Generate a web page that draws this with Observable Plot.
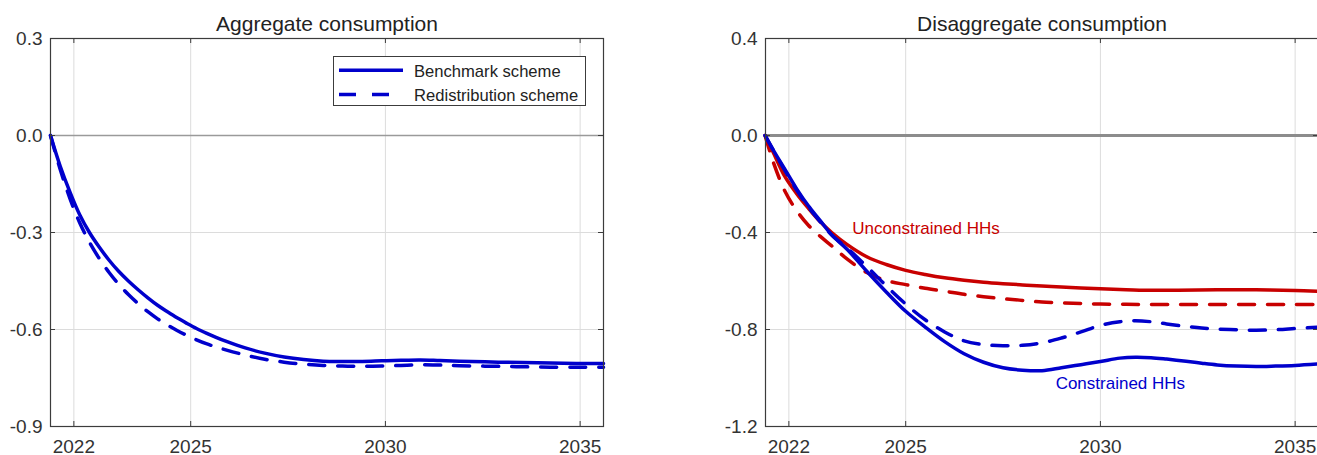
<!DOCTYPE html>
<html>
<head>
<meta charset="utf-8">
<script src="https://cdn.jsdelivr.net/npm/d3@7"></script>
<script src="https://cdn.jsdelivr.net/npm/@observablehq/plot@0.6"></script>
<style>
  html, body { margin: 0; padding: 0; background: #fff; overflow: hidden; width: 1317px; height: 455px; }
  #wrap { position: relative; width: 1317px; height: 455px; font-family: "Liberation Sans", Arial, Helvetica, sans-serif; }
  .panel { position: absolute; top: 0; }
  .legend { position: absolute; left: 333px; top: 56px; width: 251px; height: 48px; border: 1px solid #3c3c3c; background: #fff; }
</style>
</head>
<body>
<div id="wrap"></div>
<script>
// Axis ticks
const xTicks = [2022, 2025, 2030, 2035];
const aggYTicks = [0.3, 0, -0.3, -0.6, -0.9];
const disYTicks = [0.4, 0, -0.4, -0.8, -1.2];

// Panel titles and legend entries
const titles = ["Aggregate consumption", "Disaggregate consumption"];
const schemes = ["Benchmark scheme", "Redistribution scheme"];
const groups = ["Unconstrained HHs", "Constrained HHs"];

// Aggregate consumption (% deviation)
const aggYears = [2021.4, 2021.65, 2021.9, 2022.15, 2022.4, 2022.65, 2022.9, 2023.15, 2023.4, 2023.65, 2023.9, 2024.15, 2024.4, 2024.65, 2024.9, 2025.15, 2025.4, 2025.65, 2025.9, 2026.4, 2026.9, 2027.4, 2027.9, 2028.4, 2028.9, 2029.4, 2029.9, 2030.4, 2030.9, 2031.4, 2031.9, 2032.9, 2033.9, 2034.9, 2035.6];
const aggBenchmark = [0, -0.095, -0.175, -0.245, -0.30, -0.345, -0.385, -0.42, -0.45, -0.477, -0.502, -0.525, -0.545, -0.564, -0.581, -0.597, -0.611, -0.624, -0.636, -0.657, -0.673, -0.685, -0.693, -0.698, -0.699, -0.699, -0.697, -0.695, -0.694, -0.696, -0.698, -0.701, -0.703, -0.705, -0.705];
const aggRedistribution = [0, -0.105, -0.195, -0.27, -0.33, -0.38, -0.423, -0.46, -0.492, -0.52, -0.545, -0.567, -0.586, -0.603, -0.618, -0.632, -0.644, -0.654, -0.663, -0.679, -0.692, -0.701, -0.707, -0.711, -0.713, -0.714, -0.713, -0.711, -0.709, -0.710, -0.712, -0.714, -0.716, -0.717, -0.717];

// Disaggregate consumption: unconstrained households
const uncYears = [2021.39, 2021.6, 2021.9, 2022.2, 2022.5, 2022.8, 2023.1, 2023.5, 2024, 2024.5, 2025, 2025.5, 2026, 2026.5, 2027, 2027.5, 2028, 2028.5, 2029, 2029.5, 2030, 2030.5, 2031, 2032, 2033, 2034, 2035, 2035.6];
const uncBenchmark = [0, -0.07, -0.17, -0.24, -0.30, -0.355, -0.40, -0.45, -0.50, -0.532, -0.556, -0.573, -0.587, -0.597, -0.605, -0.611, -0.616, -0.621, -0.625, -0.629, -0.632, -0.635, -0.638, -0.638, -0.636, -0.636, -0.639, -0.642];
const uncRedistribution = [0, -0.11, -0.23, -0.31, -0.37, -0.415, -0.455, -0.51, -0.565, -0.598, -0.615, -0.63, -0.642, -0.655, -0.665, -0.673, -0.68, -0.687, -0.69, -0.693, -0.695, -0.696, -0.697, -0.697, -0.697, -0.697, -0.697, -0.697];

// Disaggregate consumption: constrained households
const conYears = [2021.39, 2021.6, 2021.9, 2022.2, 2022.5, 2022.8, 2023.1, 2023.5, 2024, 2024.5, 2025, 2025.5, 2026, 2026.5, 2027, 2027.5, 2028, 2028.5, 2029, 2029.5, 2030, 2030.5, 2030.9, 2031.3, 2031.7, 2032.2, 2032.6, 2033, 2033.5, 2034, 2034.5, 2035, 2035.6];
const conBenchmark = [0, -0.06, -0.14, -0.22, -0.29, -0.35, -0.41, -0.47, -0.56, -0.645, -0.725, -0.79, -0.85, -0.90, -0.935, -0.958, -0.968, -0.970, -0.958, -0.945, -0.932, -0.918, -0.914, -0.916, -0.922, -0.931, -0.939, -0.946, -0.951, -0.953, -0.951, -0.948, -0.942];
const conRedistribution = [0, -0.06, -0.145, -0.225, -0.295, -0.355, -0.41, -0.465, -0.54, -0.62, -0.695, -0.76, -0.81, -0.847, -0.862, -0.867, -0.865, -0.855, -0.835, -0.81, -0.783, -0.768, -0.764, -0.768, -0.777, -0.787, -0.794, -0.798, -0.801, -0.803, -0.801, -0.796, -0.79];

const BLUE = "#0000cc";
const RED = "#c80000";
const FONT = '"Liberation Sans", Arial, Helvetica, sans-serif';
const DASH = "16,13";

const W = 660, H = 455;
const M = {marginLeft: 50, marginRight: 57, marginTop: 38, marginBottom: 29};
const innerW = W - M.marginLeft - M.marginRight;
const innerH = H - M.marginTop - M.marginBottom;

function panel({title, yDomain, yTicks, zero, series, notes = []}) {
  const lines = series.map(s => Plot.line(s.y, {
    x: s.x, y: s.y, stroke: s.color, strokeWidth: 3.5,
    strokeDasharray: s.dashed ? DASH : null, curve: "catmull-rom", strokeLinejoin: "round"
  }));
  return Plot.plot({
    width: W, height: H, ...M,
    style: {fontFamily: FONT, fontSize: "19px", color: "#333", background: "#fff", overflow: "visible"},
    x: {domain: [2021.4, 2035.6]},
    y: {domain: yDomain},
    marks: [
      Plot.gridX(xTicks, {stroke: "#dcdcdc", strokeOpacity: 1, strokeWidth: 1}),
      Plot.gridY(yTicks, {stroke: "#dcdcdc", strokeOpacity: 1, strokeWidth: 1}),
      Plot.ruleY([0], {stroke: zero.color, strokeWidth: zero.width}),
      ...lines,
      ...notes.map(n => Plot.text([n.text], {x: n.x, y: n.y, text: d => d, fill: n.color,
        textAnchor: "start", lineAnchor: "bottom", fontSize: 17})),
      Plot.frame({stroke: "#3c3c3c", strokeWidth: 1.2}),
      Plot.ruleX(xTicks, {x: d => d, insetTop: innerH - 5, stroke: "#3c3c3c"}),
      Plot.ruleX(xTicks, {x: d => d, insetBottom: innerH - 5, stroke: "#3c3c3c"}),
      Plot.ruleY(yTicks, {y: d => d, insetRight: innerW - 5, stroke: "#3c3c3c"}),
      Plot.ruleY(yTicks, {y: d => d, insetLeft: innerW - 5, stroke: "#3c3c3c"}),
      Plot.axisX(xTicks, {tickSize: 0, tickPadding: 13, tickFormat: d => String(d), fontSize: 19, label: null}),
      Plot.axisY(yTicks, {tickSize: 0, tickPadding: 8, tickFormat: d => d.toFixed(1), fontSize: 19, label: null}),
      Plot.text([title], {frameAnchor: "top", dy: -8, lineAnchor: "bottom", text: d => d, fontSize: 21, fill: "#222"})
    ]
  });
}

const wrap = document.getElementById("wrap");

const left = panel({
  title: titles[0],
  yDomain: [-0.9, 0.3],
  yTicks: aggYTicks,
  zero: {color: "#9a9a9a", width: 1.6},
  series: [
    {x: aggYears, y: aggRedistribution, color: BLUE, dashed: true},
    {x: aggYears, y: aggBenchmark, color: BLUE, dashed: false}
  ]
});
left.classList.add("panel");
left.style.left = "0px";
wrap.appendChild(left);

const right = panel({
  title: titles[1],
  yDomain: [-1.2, 0.4],
  yTicks: disYTicks,
  zero: {color: "#8c8c8c", width: 3},
  series: [
    {x: uncYears, y: uncRedistribution, color: RED, dashed: true},
    {x: uncYears, y: uncBenchmark, color: RED, dashed: false},
    {x: conYears, y: conRedistribution, color: BLUE, dashed: true},
    {x: conYears, y: conBenchmark, color: BLUE, dashed: false}
  ],
  notes: [
    {text: groups[0], x: 2023.63, y: -0.405, color: RED},
    {text: groups[1], x: 2028.85, y: -1.047, color: BLUE}
  ]
});
right.classList.add("panel");
right.style.left = "715px";
wrap.appendChild(right);

// Legend box for the aggregate panel
const legend = document.createElement("div");
legend.className = "legend";
const ns = "http://www.w3.org/2000/svg";
const lsvg = document.createElementNS(ns, "svg");
lsvg.setAttribute("width", 251);
lsvg.setAttribute("height", 48);
lsvg.style.display = "block";
const rows = [{y: 13.3, dash: null}, {y: 37.5, dash: "17,16"}];
schemes.forEach((name, i) => {
  const ln = document.createElementNS(ns, "line");
  ln.setAttribute("x1", 5);
  ln.setAttribute("x2", i === 0 ? 69 : 55);
  ln.setAttribute("y1", rows[i].y);
  ln.setAttribute("y2", rows[i].y);
  ln.setAttribute("stroke", BLUE);
  ln.setAttribute("stroke-width", 3.5);
  if (rows[i].dash) ln.setAttribute("stroke-dasharray", rows[i].dash);
  lsvg.appendChild(ln);
  const tx = document.createElementNS(ns, "text");
  tx.setAttribute("x", 80);
  tx.setAttribute("y", rows[i].y + 6.3);
  tx.setAttribute("font-family", FONT);
  tx.setAttribute("font-size", 16.6);
  tx.setAttribute("fill", "#222");
  tx.textContent = name;
  lsvg.appendChild(tx);
});
legend.appendChild(lsvg);
wrap.appendChild(legend);
</script>
</body>
</html>
